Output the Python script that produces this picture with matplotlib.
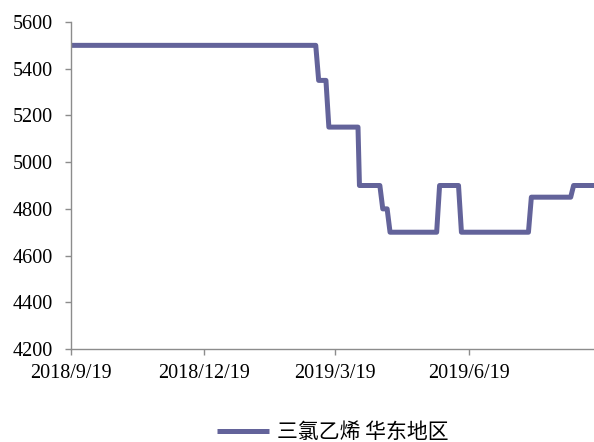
import pandas as pd
import matplotlib.pyplot as plt

# corner points of the step line
dates = ["2018-09-19", "2019-03-06", "2019-03-08", "2019-03-13", "2019-03-15",
         "2019-04-04", "2019-04-05", "2019-04-19", "2019-04-21", "2019-04-24",
         "2019-04-26", "2019-05-28", "2019-05-30", "2019-06-12", "2019-06-14",
         "2019-07-30", "2019-08-01", "2019-08-28", "2019-08-30", "2019-09-13"]
values = [5500, 5500, 5350, 5350, 5150,
          5150, 4900, 4900, 4800, 4800,
          4700, 4700, 4900, 4900, 4700,
          4700, 4850, 4850, 4900, 4900]

tick_dates = ["2018-09-19", "2018-12-19", "2019-03-19", "2019-06-19"]
tick_labels = ["2018/9/19", "2018/12/19", "2019/3/19", "2019/6/19"]
y_ticks = [4200, 4400, 4600, 4800, 5000, 5200, 5400, 5600]

series_name = "三氯乙烯 华东地区"
color = "#63639A"

x = pd.to_datetime(dates)

fig = plt.figure(figsize=(5.94, 4.42), dpi=100)
ax = fig.add_axes([71/594, 1-349/442, 1-71/594, (349-22)/442])

ax.plot(x, values, color=color, lw=3.6, solid_joinstyle="round",
        solid_capstyle="butt", label=series_name)

ax.set_xlim(pd.Timestamp("2018-09-19"), pd.Timestamp("2019-09-13"))
ax.set_ylim(4200, 5600)
ax.set_yticks(y_ticks)
ax.set_xticks(pd.to_datetime(tick_dates))
ax.set_xticklabels(tick_labels)

for s in ["top", "right"]:
    ax.spines[s].set_visible(False)
for s in ["left", "bottom"]:
    ax.spines[s].set_color("#8c8c8c")
    ax.spines[s].set_linewidth(1.0)

ax.tick_params(axis="both", direction="out", length=4, width=1,
               color="#8c8c8c", labelsize=14.5)
ax.tick_params(axis="y", pad=9)
ax.tick_params(axis="x", pad=6.5)
for lab in ax.get_xticklabels() + ax.get_yticklabels():
    lab.set_fontfamily("Liberation Serif")
    lab.set_color("#000000")

leg = fig.legend(loc="center", bbox_to_anchor=(0.56, 1-432/442), frameon=False,
                 handlelength=2.5, handletextpad=0.35,
                 prop={"family": ["Noto Sans CJK SC", "DejaVu Sans"], "size": 15})

fig.savefig("out.png", dpi=100)
